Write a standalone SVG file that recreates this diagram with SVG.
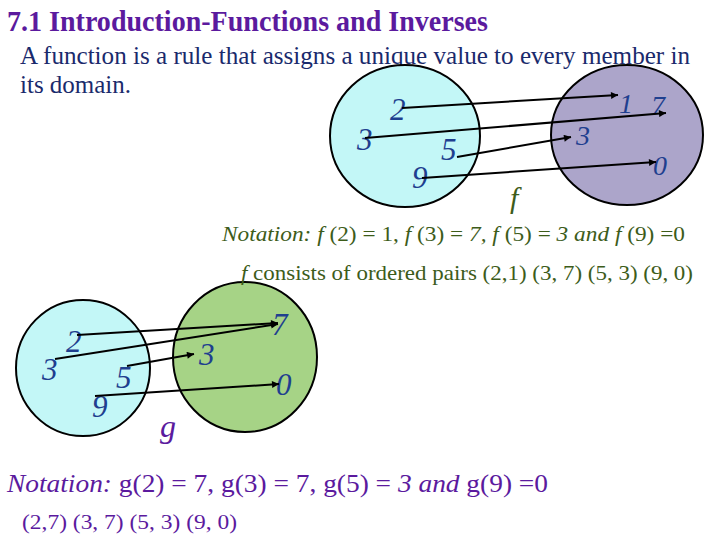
<svg xmlns="http://www.w3.org/2000/svg" width="720" height="540" viewBox="0 0 720 540">
<defs>
<marker id="ah" viewBox="0 0 10 10" refX="10" refY="5" markerWidth="9" markerHeight="7" markerUnits="userSpaceOnUse" orient="auto">
<path d="M0,0 L10,5 L0,10 z" fill="#000"/>
</marker>
</defs>
<style>
text{font-family:'Liberation Serif','Times New Roman','DejaVu Serif',serif}
.lbl{font-style:italic;font-size:31px;fill:#1f3f8f}
.lbs{font-style:italic;font-size:28px;fill:#1f3f8f}
.c{stroke:#000;stroke-width:2}
.a{stroke:#000;stroke-width:2;fill:none;marker-end:url(#ah)}
.i{font-style:italic}
</style>
<rect width="720" height="540" fill="#fff"/>
<text x="7" y="31" font-size="29" font-weight="bold" fill="#5b1a9e" textLength="481" lengthAdjust="spacingAndGlyphs">7.1 Introduction-Functions and Inverses</text>
<text x="20" y="64" font-size="26" fill="#1a2a6c" textLength="670" lengthAdjust="spacingAndGlyphs">A function is a rule that assigns a unique value to every member in</text>
<text x="20" y="93" font-size="26" fill="#1a2a6c" textLength="111" lengthAdjust="spacingAndGlyphs">its domain.</text>

<g id="f-domain">
<ellipse class="c" cx="405" cy="136" rx="75" ry="71" fill="#c3f7f7"/>
<text class="lbl" x="390" y="120">2</text>
<text class="lbl" x="357" y="150">3</text>
<text class="lbl" x="441" y="160">5</text>
<text class="lbl" x="412" y="188">9</text>
</g>
<g id="f-range">
<ellipse class="c" cx="627" cy="135" rx="76" ry="70" fill="#aca5ca"/>
<text class="lbs" x="619" y="113">1</text>
<text class="lbs" x="651" y="115">7</text>
<text class="lbs" x="576" y="145">3</text>
<text class="lbs" x="653" y="175">0</text>
</g>
<text class="i" x="510" y="208" font-size="30" fill="#3d5c1a">f</text>

<g id="g-domain">
<ellipse class="c" cx="83" cy="368" rx="67" ry="68" fill="#c3f7f7"/>
<text class="lbl" x="66" y="352">2</text>
<text class="lbl" x="42" y="380">3</text>
<text class="lbl" x="116" y="388">5</text>
<text class="lbl" x="92" y="417">9</text>
</g>
<g id="g-range">
<ellipse class="c" cx="245" cy="357" rx="72" ry="75" fill="#a6d386"/>
<text class="lbl" x="272" y="335">7</text>
<text class="lbl" x="199" y="365">3</text>
<text class="lbl" x="276" y="395">0</text>
</g>
<text class="i" x="160" y="437" font-size="32" fill="#5b1a9e">g</text>

<g id="connectors">
<line class="a" x1="402" y1="108" x2="618" y2="95"/>
<line class="a" x1="365" y1="138" x2="666" y2="113"/>
<line class="a" x1="457" y1="157" x2="571" y2="137"/>
<line class="a" x1="422" y1="178" x2="656" y2="162"/>
<line class="a" x1="77" y1="335" x2="278" y2="323"/>
<line class="a" x1="55" y1="359" x2="278" y2="324"/>
<line class="a" x1="127" y1="366" x2="194" y2="354"/>
<line class="a" x1="95" y1="396" x2="279" y2="384"/>
</g>

<text x="222" y="241" font-size="21" fill="#3d5c1a" textLength="463" lengthAdjust="spacingAndGlyphs"><tspan class="i">Notation: f </tspan>(2) = 1, <tspan class="i">f </tspan>(3) = <tspan class="i">7, f </tspan>(5) = <tspan class="i">3 and f </tspan>(9) =0</text>
<text x="241" y="280" font-size="21" fill="#3d5c1a" textLength="452" lengthAdjust="spacingAndGlyphs"><tspan class="i">f </tspan>consists of ordered pairs (2,1) (3, 7) (5, 3) (9, 0)</text>
<text x="7" y="492" font-size="25" fill="#5b1a9e" textLength="541" lengthAdjust="spacingAndGlyphs"><tspan class="i">Notation: </tspan>g(2) = 7, g(3) = 7, g(5) = <tspan class="i">3 and </tspan>g(9) =0</text>
<text x="22" y="529" font-size="20" fill="#5b1a9e" textLength="215" lengthAdjust="spacingAndGlyphs">(2,7) (3, 7) (5, 3) (9, 0)</text>
</svg>
